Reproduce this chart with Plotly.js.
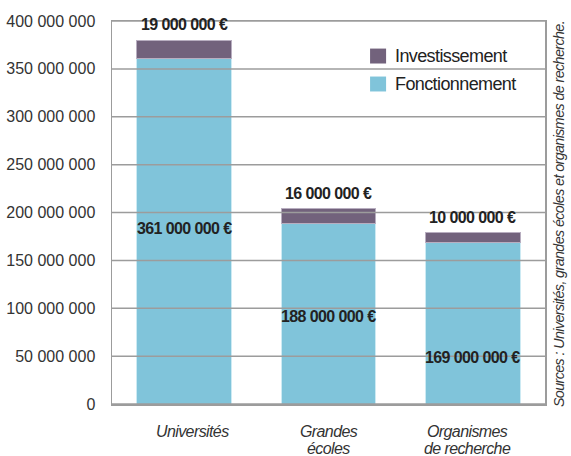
<!DOCTYPE html>
<html>
<head>
<meta charset="utf-8">
<script src="https://cdn.plot.ly/plotly-3.0.1.min.js"></script>
<style>
  html, body { margin: 0; padding: 0; background: white; }
  #graph { width: 571px; height: 456px; }
  /* police étroite : on resserre les lettres */
  .annotation-text { letter-spacing: -0.6px; }
</style>
</head>
<body>
<div id="graph"></div>
<script>
// dados
const categories = ['Universités', 'Grandes<br>écoles', 'Organismes<br>de recherche'];
const fonctionnement = [361000000, 188000000, 169000000];
const investissement = [19000000, 16000000, 10000000];
const seriesNames = ['Investissement', 'Fonctionnement'];
const yTicks = [0, 50000000, 100000000, 150000000, 200000000, 250000000, 300000000, 350000000, 400000000];
const yTickText = ['0', '50 000 000', '100 000 000', '150 000 000', '200 000 000', '250 000 000', '300 000 000', '350 000 000', '400 000 000'];
const sourceText = 'Sources : Universités, grandes écoles et organismes de recherche.';

// where the labels sit inside the blue bars (as in the original)
const insideLabelY = [183000000, 91000000, 49000000];

const blue = '#80c4da';
const purple = '#72627c';
const gridColor = '#9c9c9c';
const sans = '"Liberation Sans", Arial, sans-serif';

function euros(v) {
    return v.toLocaleString('fr-FR').replace(/\s/g, ' ') + ' €';
}

const traceF = {
    x: categories,
    y: fonctionnement,
    type: 'bar',
    name: seriesNames[1],
    marker: { color: blue, line: { color: '#cdeaf3', width: 1 } },
    width: 0.655,
    showlegend: false,
    hoverinfo: 'none'
};

const traceI = {
    x: categories,
    y: investissement,
    type: 'bar',
    name: seriesNames[0],
    marker: { color: purple, line: { color: '#b8aec0', width: 1 } },
    width: 0.655,
    showlegend: false,
    hoverinfo: 'none'
};

const annotations = [];
categories.forEach((c, i) => {
    annotations.push({
        x: c, y: fonctionnement[i] + investissement[i],
        xref: 'x', yref: 'y',
        text: euros(investissement[i]),
        showarrow: false, yanchor: 'bottom', yshift: 5,
        font: { family: sans, size: 16, color: '#222', weight: 'bold' }
    });
    annotations.push({
        x: c, y: insideLabelY[i],
        xref: 'x', yref: 'y',
        text: euros(fonctionnement[i]),
        showarrow: false, yanchor: 'middle',
        font: { family: sans, size: 16, color: '#222', weight: 'bold' }
    });
    // étiquettes de l'axe x, une ligne à la fois
    c.split('<br>').forEach((line, j) => {
        annotations.push({
            x: c, y: 0, xref: 'x', yref: 'paper',
            text: line, showarrow: false, yanchor: 'middle',
            xshift: i === 0 ? 8 : (i === 2 ? -5 : 0),
            yshift: -27 - 17 * j,
            font: { family: sans, size: 16, color: '#333', style: 'italic' }
        });
    });
});

// légende faite à la main
const legendColors = [purple, blue];
const shapes = [];
seriesNames.forEach((n, i) => {
    const yTop = 0.928 - i * 0.073;
    shapes.push({
        type: 'rect', xref: 'paper', yref: 'paper',
        x0: 0.596, x1: 0.633, y0: yTop - 0.039, y1: yTop,
        fillcolor: legendColors[i], line: { width: 0 }, layer: 'above'
    });
    annotations.push({
        x: 0.65, y: yTop - 0.0195, xref: 'paper', yref: 'paper',
        text: n, showarrow: false, xanchor: 'left', yanchor: 'middle',
        font: { family: sans, size: 18, color: '#222' }
    });
});

// grille par-dessus les barres
yTicks.forEach(t => {
    shapes.push({
        type: 'line', xref: 'paper', yref: 'y',
        x0: 0, x1: 1, y0: t, y1: t,
        line: { color: gridColor, width: 1.5 }, layer: 'above'
    });
});

annotations.push({
    x: 1.057, y: 0.495, xref: 'paper', yref: 'paper',
    text: sourceText, showarrow: false, textangle: -90,
    font: { family: sans, size: 14.3, color: '#333', style: 'italic' }
});

const layout = {
    width: 571,
    height: 456,
    margin: { l: 112, r: 26, t: 20.5, b: 52 },
    paper_bgcolor: 'white',
    plot_bgcolor: 'white',
    barmode: 'stack',
    showlegend: false,
    xaxis: {
        range: [-0.5, 2.5],
        showgrid: false,
        showline: true, mirror: true, linecolor: gridColor, linewidth: 1.5,
        ticks: '',
        showticklabels: false,
        fixedrange: true
    },
    yaxis: {
        range: [0, 400000000],
        tickvals: yTicks,
        ticktext: yTickText,
        showgrid: false,
        zeroline: false,
        showline: true, mirror: true, linecolor: gridColor, linewidth: 1.5,
        ticks: '',
        ticklabelstandoff: 12,
        tickfont: { family: sans, size: 16, color: '#333' },
        fixedrange: true
    },
    shapes: shapes,
    annotations: annotations
};

Plotly.newPlot('graph', [traceF, traceI], layout, { displayModeBar: false, staticPlot: true });
</script>
</body>
</html>
